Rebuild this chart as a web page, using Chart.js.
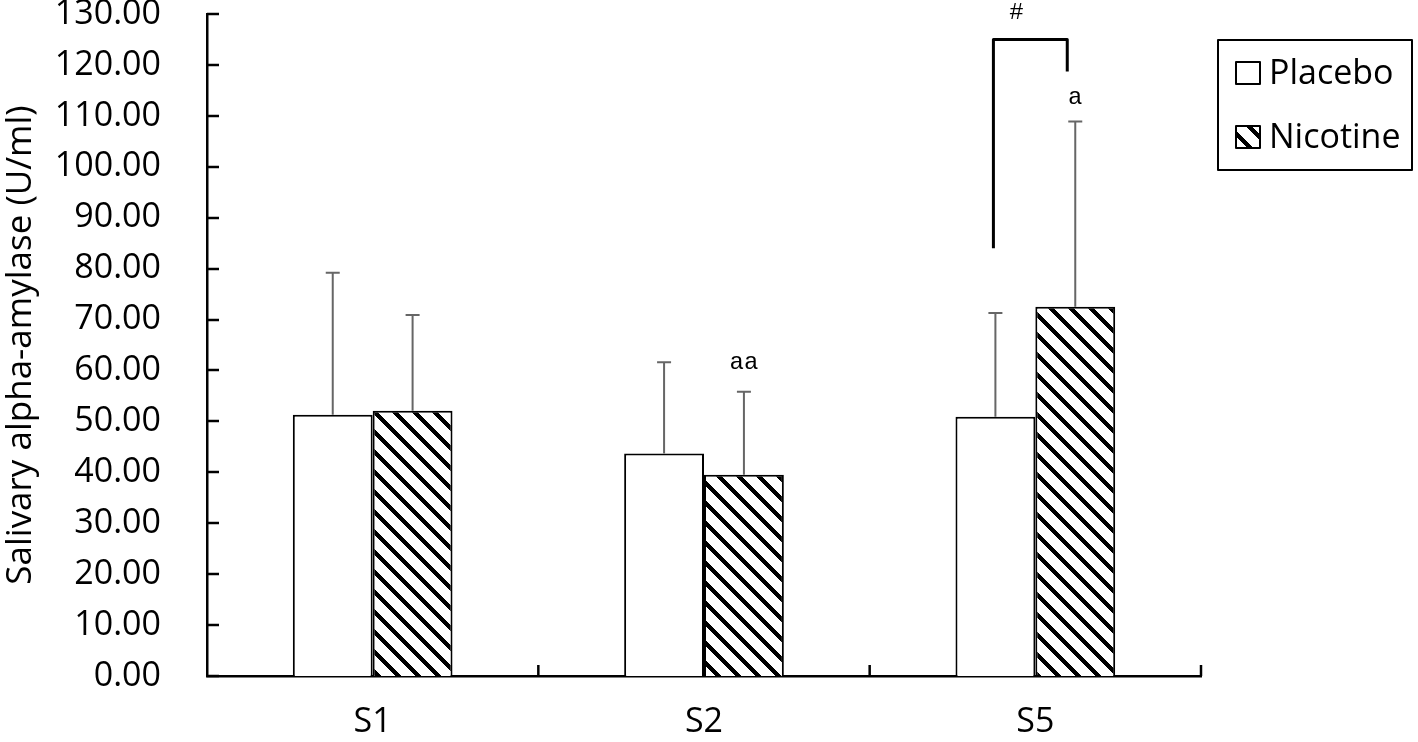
<!DOCTYPE html>
<html>
<head>
<meta charset="utf-8">
<script src="https://cdn.jsdelivr.net/npm/chart.js@4.4.1/dist/chart.umd.min.js"></script>
<style>
  body { margin: 0; background: #fff; }
  #wrap { width: 1418px; height: 742px; }
</style>
</head>
<body>
<div id="wrap"><canvas id="myChart"></canvas></div>
<script>
// data
const labels = ['S1', 'S2', 'S5'];
const placebo = [51.3, 43.7, 50.9];
const nicotine = [52.1, 39.5, 72.5];
const placeboSD = [27.9, 17.9, 20.4];
const nicotineSD = [18.8, 16.3, 36.4];
const yTicks = { min: 0, max: 130, step: 10 };

// significance marks: [category index, dataset index, value, text]
const marks = [
    [1, 1, 61.5, 'aa'],
    [2, 1, 113.5, 'a']
];
// bracket between S5 placebo and nicotine
const bracket = { cat: 2, top: 125, leftBottom: 84, rightBottom: 118.7, text: '#', textY: 130.2 };

// diagonal hatch, drawn pixel by pixel so the tile has no seams
function hatch(size, width) {
    const c = document.createElement('canvas');
    c.width = size; c.height = size;
    const g = c.getContext('2d');
    const img = g.createImageData(size, size);
    for (let py = 0; py < size; py++) {
        for (let px = 0; px < size; px++) {
            const d = (((px - py) % size) + size) % size;
            const v = d < width ? 0 : 255;
            const o = (py * size + px) * 4;
            img.data[o] = v; img.data[o + 1] = v; img.data[o + 2] = v; img.data[o + 3] = 255;
        }
    }
    g.putImageData(img, 0, 0);
    return g.createPattern(c, 'repeat');
}

const stripes = hatch(20, 6);
const tickFont = { family: 'Open Sans', size: 34 };

const extras = {
    id: 'extras',
    afterDatasetsDraw(chart) {
        const ctx = chart.ctx;
        const y = chart.scales.y;
        const area = chart.chartArea;
        ctx.save();

        // inside ticks
        ctx.strokeStyle = '#000';
        ctx.lineWidth = 2.5;
        for (let v = yTicks.min; v <= yTicks.max; v += yTicks.step) {
            const py = Math.round(y.getPixelForValue(v));
            ctx.beginPath();
            ctx.moveTo(area.left, py);
            ctx.lineTo(area.left + 12, py);
            ctx.stroke();
        }
        const n = labels.length;
        for (let i = 1; i <= n; i++) {
            const px = area.left + i * (area.right - area.left) / n;
            ctx.beginPath();
            ctx.moveTo(px, area.bottom);
            ctx.lineTo(px, area.bottom - 11);
            ctx.stroke();
        }

        // error bars
        const sds = [placeboSD, nicotineSD];
        const vals = [placebo, nicotine];
        ctx.strokeStyle = '#666';
        ctx.lineWidth = 2;
        chart.data.datasets.forEach((ds, d) => {
            chart.getDatasetMeta(d).data.forEach((bar, i) => {
                const top = y.getPixelForValue(vals[d][i] + sds[d][i]);
                ctx.beginPath();
                ctx.moveTo(bar.x, bar.y);
                ctx.lineTo(bar.x, top);
                ctx.moveTo(bar.x - 7, top);
                ctx.lineTo(bar.x + 7, top);
                ctx.stroke();
            });
        });

        // letters
        ctx.fillStyle = '#000';
        ctx.font = '24px "Liberation Mono"';
        ctx.textAlign = 'center';
        ctx.textBaseline = 'middle';
        marks.forEach(m => {
            const bar = chart.getDatasetMeta(m[1]).data[m[0]];
            ctx.fillText(m[3], bar.x, y.getPixelForValue(m[2]));
        });

        // bracket
        const bl = chart.getDatasetMeta(0).data[bracket.cat];
        const br = chart.getDatasetMeta(1).data[bracket.cat];
        const lx = bl.x - 2, rx = br.x - 8;
        const ty = y.getPixelForValue(bracket.top);
        ctx.strokeStyle = '#000';
        ctx.lineWidth = 3;
        ctx.lineJoin = 'round';
        ctx.beginPath();
        ctx.moveTo(lx, y.getPixelForValue(bracket.leftBottom));
        ctx.lineTo(lx, ty);
        ctx.lineTo(rx, ty);
        ctx.lineTo(rx, y.getPixelForValue(bracket.rightBottom));
        ctx.stroke();
        ctx.fillText(bracket.text, (lx + rx) / 2 - 14, y.getPixelForValue(bracket.textY));

        // legend box
        ctx.lineWidth = 2;
        ctx.strokeRect(1218, 40, 194, 130);
        ctx.font = '34px "Open Sans"';
        ctx.textAlign = 'left';
        chart.data.datasets.forEach((ds, d) => {
            const cy = 73 + d * 64;
            ctx.fillStyle = ds.backgroundColor;
            ctx.fillRect(1236, cy - 11, 24, 22);
            ctx.strokeRect(1236, cy - 11, 24, 22);
            ctx.fillStyle = '#000';
            ctx.fillText(ds.label, 1269, cy + 1);
        });
        ctx.restore();
    }
};

new Chart(document.getElementById('myChart'), {
    type: 'bar',
    data: {
        labels: labels,
        datasets: [
            { label: 'Placebo', data: placebo, backgroundColor: '#fff', borderColor: '#000', borderWidth: 2 },
            { label: 'Nicotine', data: nicotine, backgroundColor: stripes, borderColor: '#000', borderWidth: 2 }
        ]
    },
    options: {
        responsive: true,
        maintainAspectRatio: false,
        animation: false,
        layout: { padding: { left: 0, right: 217, top: 14, bottom: 0 } },
        plugins: { legend: { display: false }, tooltip: { enabled: false } },
        datasets: { bar: { categoryPercentage: 0.482, barPercentage: 1 } },
        scales: {
            x: {
                grid: { display: false },
                border: { color: '#000', width: 2.5 },
                ticks: { color: '#000', font: tickFont, padding: 18 },
                afterFit(s) { s.height = 66; s.paddingLeft = 0; s.paddingRight = 0; }
            },
            y: {
                min: yTicks.min,
                max: yTicks.max,
                grid: { display: false },
                border: { color: '#000', width: 2.5 },
                ticks: {
                    stepSize: yTicks.step,
                    color: '#000',
                    font: tickFont,
                    padding: 38,
                    callback: v => v.toFixed(2)
                },
                title: {
                    display: true,
                    text: 'Salivary alpha-amylase (U/ml)',
                    color: '#000',
                    font: { family: 'Open Sans', size: 35 },
                    padding: 0
                },
                afterFit(s) { s.width = 207; s.paddingTop = 0; s.paddingBottom = 0; }
            }
        }
    },
    plugins: [extras]
});
</script>
</body>
</html>
